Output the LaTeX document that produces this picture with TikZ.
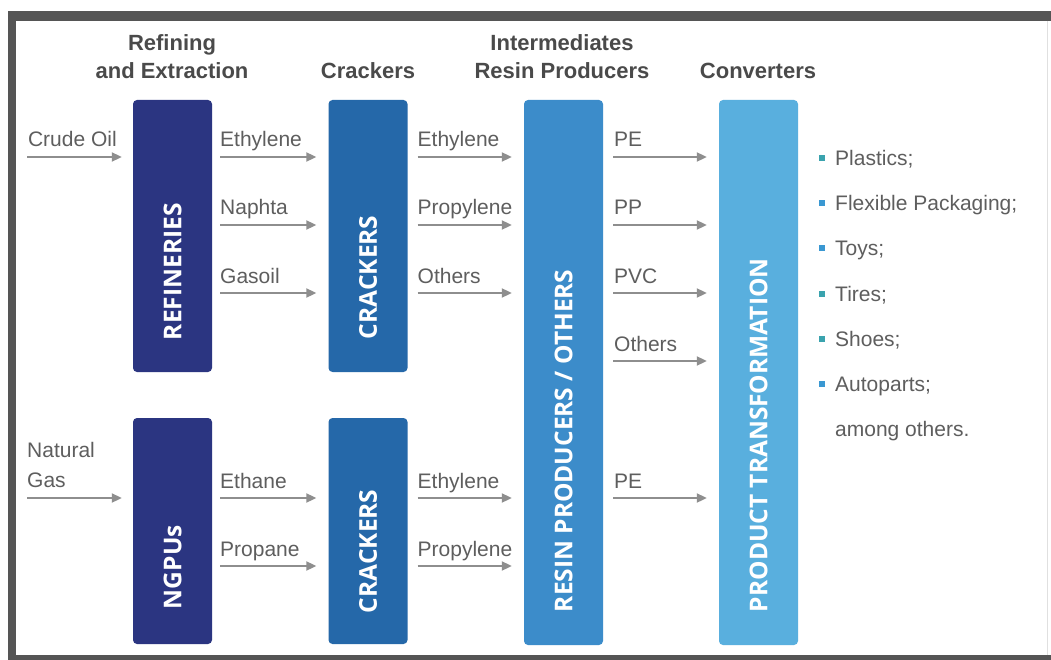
\documentclass[tikz,border=0pt]{standalone}
\usepackage{fontspec}
\setmainfont{Liberation Sans}
\newfontfamily\boxfont{Open Sans}
\usetikzlibrary{arrows.meta,calc}

\definecolor{framec}{HTML}{555555}
\definecolor{txtc}{HTML}{5E5E5E}
\definecolor{headc}{HTML}{4A4A4A}
\definecolor{arrc}{HTML}{8E8E8E}
\definecolor{navyc}{HTML}{2B3581}
\definecolor{crkc}{HTML}{2568A9}
\definecolor{resc}{HTML}{3C8CCA}
\definecolor{prodc}{HTML}{59AFDE}
\definecolor{bulA}{HTML}{3AA3AE}
\definecolor{bulB}{HTML}{3A98D2}

\begin{document}
\begin{tikzpicture}[x=1pt,y=-1pt,
  box/.style={rounded corners=4pt, minimum width=79pt, inner sep=0pt, draw=none},
  boxtxt/.style={rotate=90, anchor=west, text=white, inner sep=0pt,
    font=\boxfont\bfseries\fontsize{24.5}{24.5}\selectfont},
  head/.style={text=headc, align=center, inner sep=0pt, anchor=south,
    font=\bfseries\fontsize{22}{28}\selectfont},
  lbl/.style={text=txtc, inner sep=0pt, anchor=base west,
    font=\fontsize{21}{30}\selectfont},
  arr/.style={draw=arrc, line width=2pt, -{Triangle[length=10pt,width=9pt]}},
  bul/.style={rectangle, minimum size=6pt, inner sep=0pt},
  item/.style={text=txtc, inner sep=0pt, anchor=base west,
    font=\fontsize{21}{30}\selectfont}
]
% canvas
\path[use as bounding box] (0,0) rectangle (1051,660);
\fill[white] (0,0) rectangle (1051,660);
% frame
\fill[framec] (8,11) rectangle (1051,21);
\fill[framec] (8,11) rectangle (16,660);
\fill[framec] (8,655) rectangle (1051,660);
\draw[black!12, line width=1pt] (1047,21) -- (1047,655);

% row coordinates
\coordinate (r1) at (0,157);
\coordinate (r2) at (0,225);
\coordinate (r3) at (0,293);
\coordinate (r4) at (0,361);
\coordinate (r5) at (0,498);
\coordinate (r6) at (0,566);

% headers
\node[head] (h1) at (172,79) {Refining\\and Extraction};
\node[head] (h2) at (368,79) {Crackers};
\node[head] (h3) at (562,79) {Intermediates\\Resin Producers};
\node[head] (h4) at (758,79) {Converters};

% boxes
\node[box, fill=navyc, minimum height=272pt] (ref) at (172.5,236) {};
\node[box, fill=navyc, minimum height=226pt] (ngp) at (172.5,531) {};
\node[box, fill=crkc, minimum height=272pt] (crk1) at (368,236) {};
\node[box, fill=crkc, minimum height=226pt] (crk2) at (368,531) {};
\node[box, fill=resc, minimum height=545pt] (res) at (563.5,372.5) {};
\node[box, fill=prodc, minimum height=545pt] (prod) at (758.5,372.5) {};

\node[boxtxt] (tref) at ([yshift=32pt]ref.south) {REFINERIES};
\node[boxtxt] (tngp) at ([yshift=35pt]ngp.south) {NGPUs};
\node[boxtxt] (tcrk1) at ([yshift=33pt]crk1.south) {CRACKERS};
\node[boxtxt] (tcrk2) at ([yshift=31pt]crk2.south) {CRACKERS};
\node[boxtxt] (tres) at ([yshift=33pt]res.south) {RESIN PRODUCERS / OTHERS};
\node[boxtxt] (tprod) at ([yshift=33pt]prod.south) {PRODUCT TRANSFORMATION};

% inputs
\coordinate (crude) at (27,157);
\coordinate (natgas) at (27,498);
\draw[arr, shorten >=11pt] (crude) -- (ref.west |- r1)
  node[lbl, pos=0, yshift=10pt] {Crude Oil};
\draw[arr, shorten >=11pt] (natgas) -- (ngp.west |- r5);
\node[text=txtc, inner sep=0pt, anchor=south west, align=left,
  font=\fontsize{21}{30}\selectfont] (ngl) at (27,488) {Natural\\Gas};

% refineries -> crackers
\foreach \r/\t in {r1/Ethylene, r2/Naphta, r3/Gasoil}{
  \draw[arr, shorten <=8pt, shorten >=12pt] (ref.east |- \r) -- (crk1.west |- \r)
    node[lbl, pos=0, xshift=7pt, yshift=10pt] {\t};
}
% ngpus -> crackers
\foreach \r/\t in {r5/Ethane, r6/Propane}{
  \draw[arr, shorten <=8pt, shorten >=12pt] (ngp.east |- \r) -- (crk2.west |- \r)
    node[lbl, pos=0, xshift=7pt, yshift=10pt] {\t};
}
% crackers -> resin
\foreach \r/\t in {r1/Ethylene, r2/Propylene, r3/Others}{
  \draw[arr, shorten <=10pt, shorten >=12pt] (crk1.east |- \r) -- (res.west |- \r)
    node[lbl, pos=0, xshift=9pt, yshift=10pt] {\t};
}
\foreach \r/\t in {r5/Ethylene, r6/Propylene}{
  \draw[arr, shorten <=10pt, shorten >=12pt] (crk2.east |- \r) -- (res.west |- \r)
    node[lbl, pos=0, xshift=9pt, yshift=10pt] {\t};
}
% resin -> product
\foreach \r/\t in {r1/PE, r2/PP, r3/PVC, r4/Others, r5/PE}{
  \draw[arr, shorten <=10pt, shorten >=12pt] (res.east |- \r) -- (prod.west |- \r)
    node[lbl, pos=0, xshift=10pt, yshift=10pt] {\t};
}

% product list
\foreach \i/\t/\c in {0/Plastics;/bulA, 1/Flexible Packaging;/bulB, 2/Toys;/bulB,
  3/Tires;/bulA, 4/Shoes;/bulA, 5/Autoparts;/bulB}{
  \node[bul, fill=\c] (b\i) at (822,158+45.2*\i) {};
  \node[item] (it\i) at (835,165.5+45.2*\i) {\t};
}
\node[item] (it6) at (835,436.5) {among others.};
\end{tikzpicture}
\end{document}
